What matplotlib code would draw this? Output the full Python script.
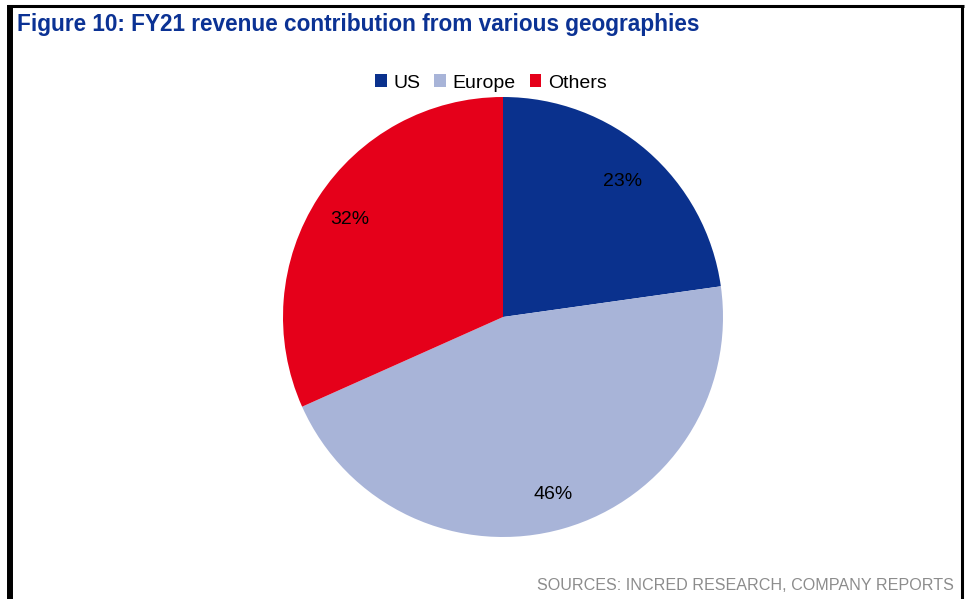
import matplotlib.pyplot as plt
from matplotlib.lines import Line2D
from matplotlib.patches import Patch

plt.rcParams['font.family'] = ['Liberation Sans', 'DejaVu Sans']

regions = ['US', 'Europe', 'Others']
shares = [23, 46, 32]
colors = ['#0A318D', '#A8B4D8', '#E5001A']

W, H = 971, 599
fig = plt.figure(figsize=(W / 100, H / 100), dpi=100)

# pie area: centre (503, 317) px, radius 220 px
cx, cy, r = 503, 317, 220
ax = fig.add_axes([(cx - r) / W, (H - cy - r) / H, 2 * r / W, 2 * r / H])
wedges, texts, pcts = ax.pie(shares, colors=colors, startangle=90, counterclock=False,
                             autopct=lambda p: f'{p * sum(shares) / 100:.0f}%',
                             pctdistance=0.83,
                             textprops={'fontsize': 14, 'color': 'black'},
                             wedgeprops={'linewidth': 0})
for t in pcts:
    t.set_va('center_baseline')
ax.set_xlim(-1, 1)
ax.set_ylim(-1, 1)

# title and source
fig.text(17 / W, 1 - 25 / H, 'Figure 10: FY21 revenue contribution from various geographies',
         fontsize=16.3, fontweight='bold', color='#0B3294', va='center', ha='left')
fig.text(954 / W, 1 - 585 / H, 'SOURCES: INCRED RESEARCH, COMPANY REPORTS',
         fontsize=11.6, color='#8C8C8C', va='center', ha='right')

handles = [Patch(facecolor=c, edgecolor='none') for c in colors]
fig.legend(handles, regions, loc='center', bbox_to_anchor=(491 / W, 1 - 83 / H),
           ncol=3, frameon=False, fontsize=14, handlelength=0.6, handleheight=0.6,
           handletextpad=0.35, columnspacing=0.7)

# frame lines
fig.add_artist(Line2D([10 / W, 10 / W], [0, 1 - 5 / H], color='black', lw=4.3,
                      transform=fig.transFigure, solid_capstyle='butt'))
fig.add_artist(Line2D([7 / W, 964 / W], [1 - 6 / H, 1 - 6 / H], color='black', lw=2.2,
                      transform=fig.transFigure, solid_capstyle='butt'))
fig.add_artist(Line2D([962 / W, 962 / W], [0, 1 - 5 / H], color='black', lw=2.2,
                      transform=fig.transFigure, solid_capstyle='butt'))

fig.savefig('out.png', dpi=100)
